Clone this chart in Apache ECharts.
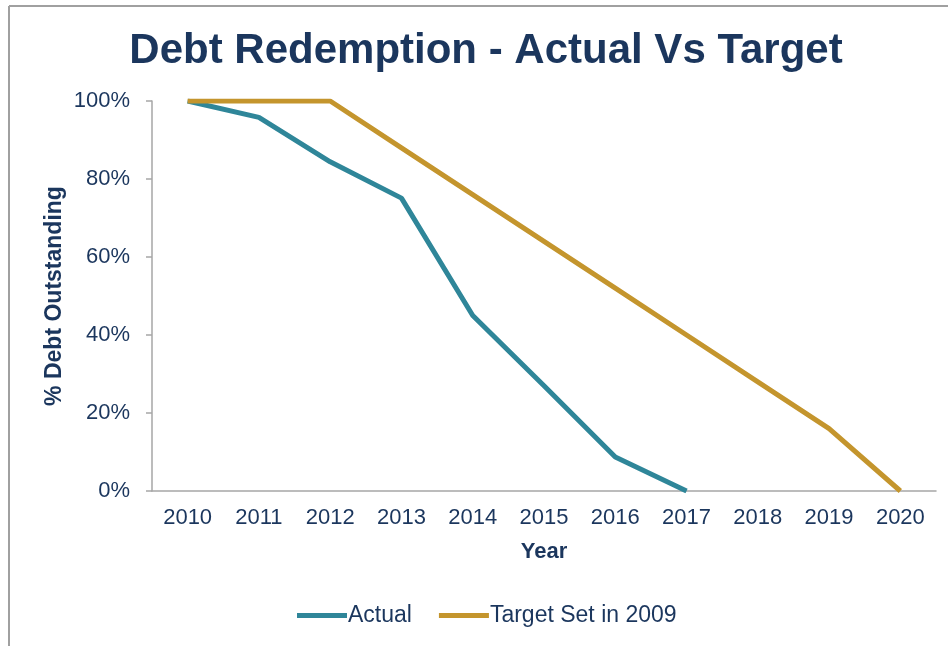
<!DOCTYPE html>
<html>
<head>
<meta charset="utf-8">
<script src="https://cdn.jsdelivr.net/npm/echarts@6/dist/echarts.min.js"></script>
<style>html,body{margin:0;padding:0;background:#fff}#c{width:948px;height:646px}</style>
</head>
<body>
<div id="c"></div>
<script>
const years = ['2010','2011','2012','2013','2014','2015','2016','2017','2018','2019','2020'];
const actual = [100, 95.8, 84.4, 75.1, 45, 27, 8.7, 0, null, null, null];
const target = [100, 100, 100, 88, 76, 64, 52, 40, 28, 16, 0];
const yTicks = [0, 20, 40, 60, 80, 100];

const navy = '#1B365D';
const font = 'Liberation Sans, Arial, sans-serif';
const chart = echarts.init(document.getElementById('c'), null, {renderer: 'canvas'});
chart.setOption({
  backgroundColor: '#fff',
  animation: false,
  title: {
    text: 'Debt Redemption - Actual Vs Target',
    left: 481, textAlign: 'center', top: 25,
    textStyle: {fontFamily: font, fontSize: 42, fontWeight: 'bold', color: navy}
  },
  graphic: [
    {type: 'line', shape: {x1: 9, y1: 6, x2: 948, y2: 6}, style: {stroke: '#A0A0A0', lineWidth: 2}},
    {type: 'line', shape: {x1: 9, y1: 6, x2: 9, y2: 646}, style: {stroke: '#A0A0A0', lineWidth: 2}}
  ],
  legend: {
    left: 292, top: 599,
    itemWidth: 50, itemHeight: 5, itemGap: 27, icon: 'rect',
    textStyle: {fontFamily: font, fontSize: 23, color: navy, padding: [0, 0, 0, -4]},
    data: ['Actual', 'Target Set in 2009']
  },
  grid: {left: 152, right: 12, top: 101, bottom: 155},
  xAxis: {
    type: 'category', data: years, boundaryGap: true,
    name: 'Year', nameLocation: 'middle', nameGap: 50,
    nameTextStyle: {fontFamily: font, fontSize: 22, fontWeight: 'bold', color: navy},
    axisLine: {lineStyle: {color: '#A6A6A6', width: 1.5}},
    axisTick: {alignWithLabel: true, length: 5, lineStyle: {color: '#A6A6A6', width: 1.5}},
    axisLabel: {fontFamily: font, fontSize: 22, color: navy, margin: 16},
    splitLine: {show: false}
  },
  yAxis: {
    type: 'value', min: 0, max: 100, interval: 20,
    name: '% Debt Outstanding', nameLocation: 'middle', nameGap: 86, nameRotate: 90,
    nameMoveOverlap: false,
    nameTextStyle: {fontFamily: font, fontSize: 23, fontWeight: 'bold', color: navy},
    axisLine: {show: true, lineStyle: {color: '#A6A6A6', width: 1.5}},
    axisTick: {show: true, length: 6, lineStyle: {color: '#A6A6A6', width: 1.5}},
    axisLabel: {fontFamily: font, fontSize: 22, color: navy, margin: 22,
      formatter: v => yTicks.includes(v) ? v + '%' : ''},
    splitLine: {show: false}
  },
  series: [
    {name: 'Actual', type: 'line', data: actual, showSymbol: false, symbol: 'none',
     lineStyle: {width: 5, color: '#2F8699', join: 'round'}, itemStyle: {color: '#2F8699'}},
    {name: 'Target Set in 2009', type: 'line', data: target, showSymbol: false, symbol: 'none',
     lineStyle: {width: 5, color: '#C4952D', join: 'round'}, itemStyle: {color: '#C4952D'}}
  ]
});
</script>
</body>
</html>
